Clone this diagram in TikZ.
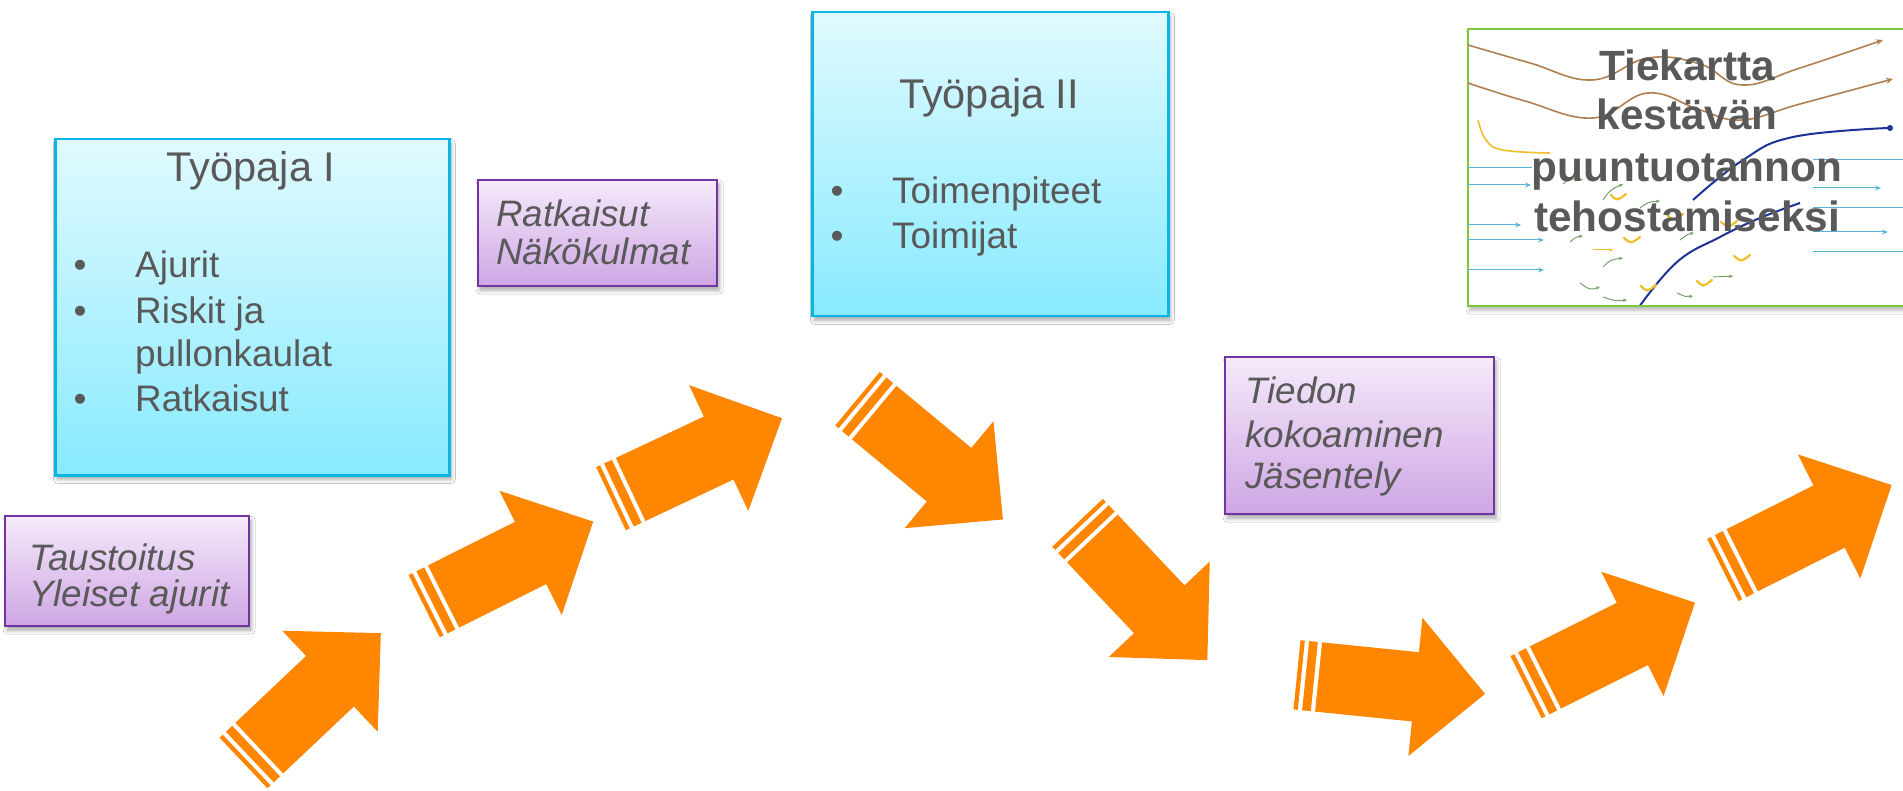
\documentclass[tikz,border=0pt]{standalone}
\usepackage{fontspec}
\setmainfont{Liberation Sans}
\usetikzlibrary{shadows.blur,arrows.meta}
\definecolor{txtgray}{RGB}{89,89,89}
\definecolor{arrorange}{RGB}{255,134,0}
\definecolor{wsborder}{RGB}{8,182,230}
\definecolor{wstop}{RGB}{224,250,255}
\definecolor{wsbot}{RGB}{136,234,255}
\definecolor{ppborder}{RGB}{114,52,160}
\definecolor{pptop}{RGB}{245,234,250}
\definecolor{ppbot}{RGB}{206,166,228}
\definecolor{mapgreen}{RGB}{124,200,60}
\definecolor{mapbrown}{RGB}{176,128,80}
\definecolor{mapblue}{RGB}{30,50,150}
\definecolor{mapcyan}{RGB}{90,180,215}
\definecolor{mapyellow}{RGB}{240,190,40}
\definecolor{mapsmall}{RGB}{120,160,110}
\newcommand\fTitle{\fontsize{41.5pt}{48pt}\selectfont}
\newcommand\fItem{\fontsize{36.9pt}{44pt}\selectfont}
\newcommand\fNote{\fontsize{36.8pt}{40pt}\selectfont\itshape}
\newcommand\fMap{\fontsize{42.3pt}{50pt}\selectfont\bfseries}
\tikzset{
  wsbox/.style={draw=wsborder, line width=2.5pt, top color=wstop, bottom color=wsbot,
    anchor=north west, inner sep=0pt,
    blur shadow={shadow xshift=2pt, shadow yshift=-4pt, shadow opacity=35, shadow blur radius=4pt}},
  notebox/.style={draw=ppborder, line width=2.2pt, top color=pptop, bottom color=ppbot,
    anchor=north west, inner sep=0pt,
    blur shadow={shadow xshift=2pt, shadow yshift=-4pt, shadow opacity=35, shadow blur radius=4pt}},
  txt/.style={anchor=base west, inner sep=0pt, text=txtgray},
  ctxt/.style={anchor=base, inner sep=0pt, text=txtgray},
  bul/.style={anchor=base, inner sep=0pt, text=txtgray, font=\fItem},
  stripearrow/.pic={
    \fill[arrorange] (0,-34.8) rectangle (4.35,34.8);
    \fill[arrorange] (8.7,-34.8) rectangle (17.4,34.8);
    \fill[arrorange] (21.7,-34.8) -- (119,-34.8) -- (119,-69.5) -- (189,0)
      -- (119,69.5) -- (119,34.8) -- (21.7,34.8) -- cycle;
  },
  cyanline/.style={mapcyan, line width=1pt},
  cyanarrow/.style={mapcyan, line width=1pt, -{Stealth[length=6pt,width=5pt]}},
  smallarrow/.style={mapsmall, line width=1pt, -{Stealth[length=4pt,width=3.5pt]}},
  vmark/.style={mapyellow, line width=2.2pt, line cap=round},
}
\begin{document}
\begin{tikzpicture}[x=1pt,y=-1pt]
\useasboundingbox (0,0) rectangle (1903,791);
\fill[white] (0,0) rectangle (1903,791);

% ---------- workshop boxes ----------
\node[wsbox, minimum width=394pt, minimum height=336pt] (ws1) at (54,138) {};
\node[ctxt, font=\fTitle] (ws1title) at (251,181.7) {Työpaja I};
\node[bul] (ws1b1) at (80,278) {•};
\node[txt, font=\fItem] (ws1i1) at (135,278) {Ajurit};
\node[bul] (ws1b2) at (80,323.3) {•};
\node[txt, font=\fItem] (ws1i2) at (135,323.3) {Riskit ja};
\node[txt, font=\fItem] (ws1i3) at (135,366.7) {pullonkaulat};
\node[bul] (ws1b3) at (80,411.7) {•};
\node[txt, font=\fItem] (ws1i4) at (135,411.7) {Ratkaisut};

\node[wsbox, minimum width=356pt, minimum height=304pt] (ws2) at (811,11) {};
\node[ctxt, font=\fTitle] (ws2title) at (989,108.3) {Työpaja II};
\node[bul] (ws2b1) at (837,203.3) {•};
\node[txt, font=\fItem] (ws2i1) at (892,203.3) {Toimenpiteet};
\node[bul] (ws2b2) at (837,248.3) {•};
\node[txt, font=\fItem] (ws2i2) at (892,248.3) {Toimijat};

% ---------- note boxes ----------
\node[notebox, minimum width=244pt, minimum height=110pt] (nt1) at (4,515) {};
\node[txt, font=\fNote] (nt1a) at (29,570) {Taustoitus};
\node[txt, font=\fNote] (nt1b) at (29,606.7) {Yleiset ajurit};

\node[notebox, minimum width=239pt, minimum height=106pt] (nt2) at (477,179) {};
\node[txt, font=\fNote] (nt2a) at (496,226.7) {Ratkaisut};
\node[txt, font=\fNote] (nt2b) at (496,265) {Näkökulmat};

\node[notebox, minimum width=269pt, minimum height=157pt] (nt3) at (1224,356) {};
\node[txt, font=\fNote] (nt3a) at (1245,403.3) {Tiedon};
\node[txt, font=\fNote] (nt3b) at (1245,447.3) {kokoaminen};
\node[txt, font=\fNote] (nt3c) at (1245,488.3) {Jäsentely};

% ---------- road-map picture ----------
\node[draw=mapgreen, line width=2pt, fill=white, anchor=north west, minimum width=442pt,
  minimum height=277pt, inner sep=0pt,
  blur shadow={shadow xshift=2pt, shadow yshift=-4pt, shadow opacity=30, shadow blur radius=4pt}]
  (map) at (1467,28) {};
\begin{scope}
  \clip (1468,29) rectangle (1903,305);
  \draw[mapbrown, line width=1.6pt, -{Stealth[length=7pt,width=6pt]}] plot[smooth, tension=0.7]
    coordinates {(1468,45) (1530,63) (1592,80) (1648,58) (1700,64) (1742,85) (1800,68) (1883,40)};
  \draw[mapbrown, line width=1.6pt, -{Stealth[length=7pt,width=6pt]}] plot[smooth, tension=0.7]
    coordinates {(1468,83) (1525,101) (1593,118) (1648,93) (1700,110) (1742,120) (1800,104) (1893,79)};
  \draw[mapyellow, line width=1.6pt] plot[smooth, tension=0.7]
    coordinates {(1478,120) (1486,140) (1503,150) (1550,153)};
  \draw[mapblue, line width=2pt] plot[smooth, tension=0.7]
    coordinates {(1693,200) (1743,160) (1793,137) (1888,128)};
  \fill[mapblue] (1890,128) circle (3pt);
  \draw[mapblue, line width=2pt] plot[smooth, tension=0.7]
    coordinates {(1639,307) (1677,262) (1720,237) (1760,218) (1800,203)};
  % cyan flow lines
  \draw[cyanline] (1467,168) -- (1532,168);
  \draw[cyanarrow] (1467,185) -- (1531,185);
  \draw[cyanarrow] (1467,225) -- (1521,225);
  \draw[cyanarrow] (1467,240) -- (1544,240);
  \draw[cyanarrow] (1467,270) -- (1544,270);
  \draw[cyanline] (1813,160) -- (1903,160);
  \draw[cyanarrow] (1813,188) -- (1881,188);
  \draw[cyanline] (1813,208) -- (1903,208);
  \draw[cyanarrow] (1813,232) -- (1888,232);
  \draw[cyanline] (1813,252) -- (1903,252);
  % small marks
  \draw[vmark] (1611,195) .. controls (1617,201) .. (1626,194);
  \draw[vmark] (1624,238) .. controls (1631,244) .. (1640,237);
  \draw[vmark] (1667,215) .. controls (1674,221) .. (1683,214);
  \draw[vmark] (1721,222) .. controls (1728,228) .. (1737,221);
  \draw[vmark] (1734,256) .. controls (1741,262) .. (1750,255);
  \draw[vmark] (1697,281) .. controls (1703,287) .. (1712,280);
  \draw[vmark] (1641,286) .. controls (1647,292) .. (1656,285);
  \draw[smallarrow] (1563,184) .. controls (1570,178) .. (1583,180);
  \draw[smallarrow] (1603,200) .. controls (1610,190) .. (1623,184);
  \draw[smallarrow] (1640,208) .. controls (1648,202) .. (1660,201);
  \draw[smallarrow] (1570,242) .. controls (1576,237) .. (1583,236);
  \draw[mapyellow, line width=1pt, -{Stealth[length=4pt,width=3.5pt]}] (1593,250) -- (1613,250);
  \draw[smallarrow] (1603,267) .. controls (1610,260) .. (1623,258);
  \draw[smallarrow] (1580,283) .. controls (1590,290) .. (1600,287);
  \draw[smallarrow] (1680,240) .. controls (1688,234) .. (1694,233);
  \draw[smallarrow] (1713,277) .. controls (1722,277) .. (1733,276);
  \draw[smallarrow] (1677,293) .. controls (1686,297) .. (1693,296);
  \draw[smallarrow] (1603,297) .. controls (1615,301) .. (1627,300);
\end{scope}
\node[ctxt, font=\fMap] (mapl1) at (1687,80.7) {Tiekartta};
\node[ctxt, font=\fMap] (mapl2) at (1687,130) {kestävän};
\node[ctxt, font=\fMap] (mapl3) at (1687,181.7) {puuntuotannon};
\node[ctxt, font=\fMap] (mapl4) at (1687,231.7) {tehostamiseksi};

% ---------- striped arrows ----------
\pic[rotate=43.4] (ar1) at (243.5,763) {stripearrow};
\pic[rotate=26.6] (ar2) at (424.2,606.2) {stripearrow};
\pic[rotate=25.2] (ar3) at (611,498.7) {stripearrow};
\pic[rotate=-39.7] (ar4) at (857.5,398.7) {stripearrow};
\pic[rotate=-46.6] (ar5) at (1077.5,522.8) {stripearrow};
\pic[rotate=-5.8] (ar6) at (1297,674.8) {stripearrow};
\pic[rotate=26.6] (ar7) at (1526,687.2) {stripearrow};
\pic[rotate=26.7] (ar8) at (1722.8,570) {stripearrow};
\end{tikzpicture}
\end{document}
